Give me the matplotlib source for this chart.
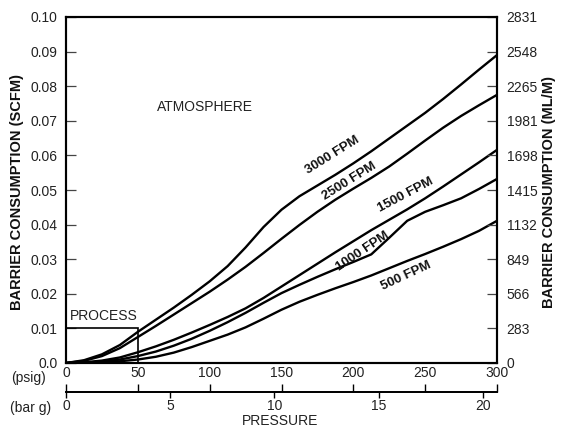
import matplotlib
matplotlib.use("Agg")
import matplotlib.pyplot as plt
import numpy as np

FONT = ['Liberation Sans', 'DejaVu Sans']
plt.rcParams['font.family'] = FONT

# ---------------- data ----------------
psig = [0, 12.5, 25, 37.5, 50, 62.5, 75, 87.5, 100, 112.5, 125, 137.5, 150,
        162.5, 175, 187.5, 200, 212.5, 225, 237.5, 250, 262.5, 275, 287.5, 300]

fpm3000 = [0, 0.0008, 0.0025, 0.0052, 0.0090, 0.0125, 0.0160, 0.0197, 0.0236, 0.0280,
           0.0334, 0.0393, 0.0443, 0.0482, 0.0513, 0.0544, 0.0577, 0.0612, 0.0649,
           0.0686, 0.0723, 0.0763, 0.0805, 0.0848, 0.0890]
fpm2500 = [0, 0.0006, 0.0020, 0.0043, 0.0075, 0.0107, 0.0140, 0.0173, 0.0206, 0.0241,
           0.0278, 0.0318, 0.0359, 0.0399, 0.0437, 0.0472, 0.0504, 0.0535, 0.0568,
           0.0605, 0.0643, 0.0680, 0.0714, 0.0745, 0.0775]
fpm1500 = [0, 0.0002, 0.0007, 0.0016, 0.0031, 0.0048, 0.0067, 0.0088, 0.0110, 0.0133,
           0.0158, 0.0188, 0.0221, 0.0254, 0.0287, 0.0320, 0.0352, 0.0384, 0.0414,
           0.0444, 0.0476, 0.0510, 0.0545, 0.0580, 0.0616]
fpm1000 = [0, 0.0001, 0.0004, 0.0010, 0.0020, 0.0033, 0.0050, 0.0070, 0.0093, 0.0118,
           0.0145, 0.0174, 0.0202, 0.0226, 0.0249, 0.0271, 0.0292, 0.0314, 0.0362,
           0.0411, 0.0437, 0.0456, 0.0476, 0.0503, 0.0532]
fpm500 = [0, 0.0000, 0.0002, 0.0005, 0.0010, 0.0018, 0.0030, 0.0046, 0.0064, 0.0082,
          0.0103, 0.0128, 0.0154, 0.0177, 0.0197, 0.0216, 0.0234, 0.0253, 0.0274,
          0.0295, 0.0315, 0.0336, 0.0358, 0.0382, 0.0411]

series = [fpm3000, fpm2500, fpm1500, fpm1000, fpm500]
series_labels = ['3000 FPM', '2500 FPM', '1500 FPM', '1000 FPM', '500 FPM']
label_pos = [(185.6, 0.0601), (197, 0.0524), (236.6, 0.0486), (206.5, 0.0322), (236.6, 0.0252)]
label_rot = [32, 32, 28, 34, 25]

scfm_ticks = [0.0, 0.01, 0.02, 0.03, 0.04, 0.05, 0.06, 0.07, 0.08, 0.09, 0.10]
scfm_labels = ['0.0', '0.01', '0.02', '0.03', '0.04', '0.05', '0.06', '0.07', '0.08', '0.09', '0.10']
mlm_labels = ['0', '283', '566', '849', '1132', '1415', '1698', '1981', '2265', '2548', '2831']
psig_ticks = [0, 50, 100, 150, 200, 250, 300]
bar_ticks = [0, 5, 10, 15, 20]
process_box = (50, 0.01)
PSI_PER_BAR = 14.5038

# ---------------- figure ----------------
W, H = 561, 432
fig = plt.figure(figsize=(W / 100, H / 100), dpi=100)
L, R, T, B = 66, 497, 17, 363
ax = fig.add_axes([L / W, 1 - B / H, (R - L) / W, (B - T) / H])

tc = '#222222'
for s in series:
    ax.plot(psig, s, color='black', lw=1.7, solid_capstyle='round',
            solid_joinstyle='round')

ax.set_xlim(0, 300)
ax.set_ylim(0, 0.10)
for sp in ax.spines.values():
    sp.set_linewidth(1.5)

ax.set_yticks(scfm_ticks)
ax.set_yticklabels(scfm_labels)
ax.tick_params(axis='y', direction='in', length=7, width=0.9, pad=6,
               labelsize=10, labelcolor=tc, color='#444444')
ax.set_xticks(psig_ticks)
ax.set_xticklabels([str(v) for v in psig_ticks])
ax.tick_params(axis='x', length=0, pad=2, labelsize=10, labelcolor=tc)

ax2 = ax.twinx()
ax2.set_ylim(0, 0.10)
ax2.set_yticks(scfm_ticks)
ax2.set_yticklabels(mlm_labels)
ax2.tick_params(axis='y', direction='in', length=7, width=0.9, pad=7,
                labelsize=10, labelcolor=tc, color='#444444')
for sp in ax2.spines.values():
    sp.set_linewidth(1.5)

# process box
ax.add_patch(plt.Rectangle((0, 0), process_box[0], process_box[1], fill=False,
                           lw=1.2, edgecolor='black', zorder=3))
ax.text(26, 0.0116, 'PROCESS', ha='center', va='bottom', fontsize=10, color=tc)
ax.text(96.5, 0.074, 'ATMOSPHERE', ha='center', va='center', fontsize=10, color=tc)

for lab, (x, y), r in zip(series_labels, label_pos, label_rot):
    ax.text(x, y, lab, ha='center', va='center', fontsize=9.5, fontweight='bold',
            rotation=r, rotation_mode='anchor', color='#111111')

# secondary pressure axes (bar g)
loc = -(392 - B) / (B - T)
sec1 = ax.secondary_xaxis(loc)
sec1.set_xticks(psig_ticks)
sec1.tick_params(direction='in', length=6, width=1.0, labelbottom=False)
sec1.spines['bottom'].set_linewidth(1.3)

sec2 = ax.secondary_xaxis(loc, functions=(lambda p: np.asarray(p) / PSI_PER_BAR,
                                          lambda b: np.asarray(b) * PSI_PER_BAR))
sec2.set_xticks(bar_ticks)
sec2.set_xticklabels([str(v) for v in bar_ticks])
sec2.tick_params(direction='out', length=4, width=1.0, pad=1, labelsize=10, labelcolor=tc)
sec2.spines['bottom'].set_linewidth(1.3)

fig.text(29 / W, 1 - 378 / H, '(psig)', ha='center', va='center', fontsize=10, color=tc)
fig.text(31 / W, 1 - 408 / H, '(bar g)', ha='center', va='center', fontsize=10, color=tc)
fig.text(280 / W, 1 - 421 / H, 'PRESSURE', ha='center', va='center', fontsize=10, color=tc)

fig.text(17 / W, 1 - 192 / H, 'BARRIER CONSUMPTION (SCFM)', rotation=90, ha='center',
         va='center', fontsize=10.5, fontweight='bold', color='#111111')
fig.text(549 / W, 1 - 192 / H, 'BARRIER CONSUMPTION (ML/M)', rotation=90, ha='center',
         va='center', fontsize=10.5, fontweight='bold', color='#111111')

fig.savefig('out.png', dpi=100)
